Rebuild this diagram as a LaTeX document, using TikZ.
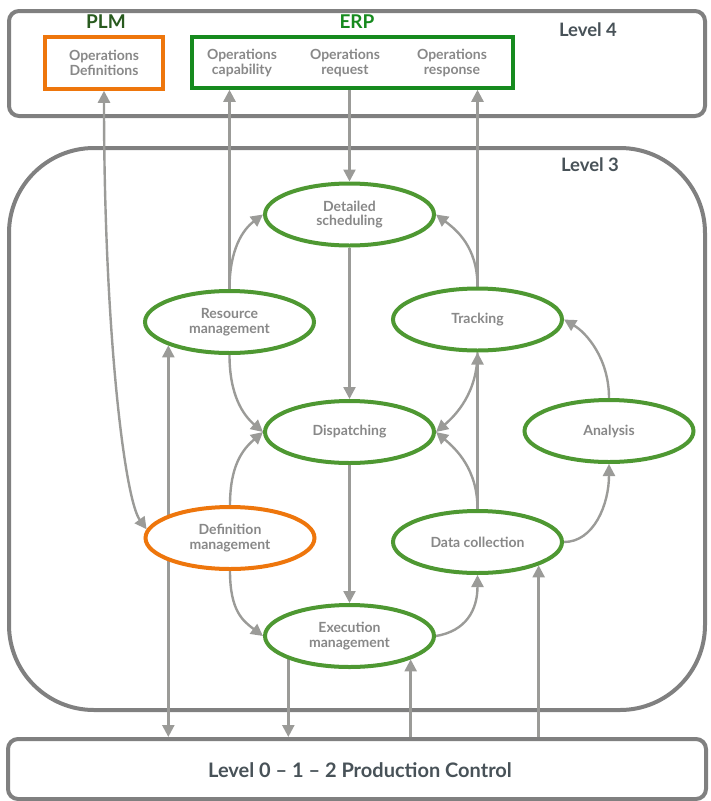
\documentclass[tikz,border=0pt]{standalone}
\usepackage{fontspec}
\setmainfont{Lato}
\usetikzlibrary{arrows.meta,shapes.geometric}
\pgfdeclarelayer{frames}
\pgfdeclarelayer{links}
\pgfsetlayers{frames,links,main}

\definecolor{framegray}{RGB}{128,128,128}
\definecolor{linkgray}{RGB}{155,155,152}
\definecolor{stepgreen}{RGB}{78,152,50}
\definecolor{plmorange}{RGB}{238,118,12}
\definecolor{erpgreen}{RGB}{22,138,30}
\definecolor{plmtext}{RGB}{40,90,30}
\definecolor{leveltext}{RGB}{72,82,88}
\definecolor{labelgray}{RGB}{136,136,136}

\tikzset{
  levelbox/.style={draw=framegray, line width=4pt, rounded corners=10pt, inner sep=0pt},
  sysbox/.style={draw=#1, line width=3.5pt, inner sep=0pt},
  func/.style={ellipse, draw=stepgreen, line width=4pt, fill=white,
    minimum width=169pt, minimum height=62pt, inner sep=0pt,
    text=labelgray, font=\fontsize{14}{14.5}\selectfont\bfseries, align=center},
  deffunc/.style={func, draw=plmorange},
  itemtext/.style={text=labelgray, font=\fontsize{14}{14.5}\selectfont\bfseries, align=center},
  leveltitle/.style={text=leveltext, font=\fontsize{18.5}{20}\selectfont\bfseries},
  systitle/.style={font=\fontsize{19}{21}\selectfont\bfseries},
  link/.style={draw=linkgray, line width=2.4pt, -{Triangle[length=12pt,width=12pt]}},
  duplex/.style={link, {Triangle[length=12pt,width=12pt]}-{Triangle[length=12pt,width=12pt]}}
}

\begin{document}
\begin{tikzpicture}[x=1pt,y=-1pt]
\useasboundingbox (0,0) rectangle (710,801);

% level frames
\begin{pgfonlayer}{frames}
  \node[levelbox, minimum width=696pt, minimum height=105pt] (l4) at (357,63.5) {};
  \node[levelbox, rounded corners=85pt, minimum width=696pt, minimum height=562pt] (l3) at (357,429) {};
  \node[levelbox, minimum width=698pt, minimum height=60pt] (l0) at (357,769) {};
\end{pgfonlayer}

\node[leveltitle] (l4t) at (588,30) {Level 4};
\node[leveltitle] (l3t) at (590,165) {Level 3};
\node[text=leveltext, font=\fontsize{20}{22}\selectfont\bfseries] (l0t) at (360,770)
  {Level 0 – 1 – 2 Production Control};

% business systems
\node[systitle, text=plmtext] (plmt) at (106,22) {PLM};
\node[systitle, text=erpgreen] (erpt) at (357,22) {ERP};
\node[sysbox=plmorange, minimum width=118pt, minimum height=52pt] (plm) at (104,63) {};
\node[sysbox=erpgreen, minimum width=321pt, minimum height=51pt] (erp) at (352.5,62.5) {};
\node[itemtext] (opdef) at (104,63) {Operations\\Definitions};
\node[itemtext] (opcap) at (242,63) {Operations\\capability};
\node[itemtext] (opreq) at (345,63) {Operations\\request};
\node[itemtext] (opres) at (452,63) {Operations\\response};

% operations management functions
\node[func] (ds) at (349.5,214.5) {Detailed\\scheduling};
\node[func] (rm) at (229.5,322) {Resource\\management};
\node[func] (tr) at (477.5,319.5) {Tracking};
\node[func] (dp) at (349.5,432) {Dispatching};
\node[func] (an) at (609,431) {Analysis};
\node[deffunc] (dm) at (230,538) {Definition\\management};
\node[func] (dc) at (477.5,542) {Data collection};
\node[func] (em) at (349.5,636) {Execution\\management};

% information flows
\begin{pgfonlayer}{links}
  \draw[duplex] (plm.south) .. controls +(0,240) and +(-22,-30) .. (dm.174);
  \draw[link] (rm.north) -- (rm.north |- erp.south);
  \draw[link] (ds.north |- erp.south) -- (ds.north);
  \draw[link] (tr.north) -- (tr.north |- erp.south);

  \draw[link] (rm.north) .. controls +(0,-40) and +(-20,15) .. (ds.west);
  \draw[link] (tr.north) .. controls +(0,-40) and +(20,15) .. (ds.east);
  \draw[link] (ds.south) -- (dp.north);

  \draw[link] (rm.south) .. controls +(0,40) and +(-20,-17) .. (dp.west);
  \draw[link] (dm.north) .. controls +(0,-40) and +(-20,17) .. (dp.west);
  \draw[link] (tr.south) .. controls +(0,40) and +(20,-17) .. (dp.east);
  \draw[link] (dc.north) .. controls +(0,-40) and +(20,17) .. (dp.east);
  \draw[link] (dc.north) -- (tr.south);

  \draw[link] (an.north) .. controls +(0,-40) and +(22,13) .. (tr.east);
  \draw[link] (dc.east) .. controls +(30,0) and +(0,40) .. (an.south);

  \draw[link] (dp.south) -- (em.north);
  \draw[link] (dm.south) .. controls +(0,40) and +(-20,-15) .. (em.west);
  \draw[link] (em.east) .. controls +(30,-5) and +(0,35) .. (dc.south);

  \draw[duplex] (rm.south west) -- (rm.south west |- l0.north);
  \draw[link] (em.south west) -- (em.south west |- l0.north);
  \draw[link] (em.south east |- l0.north) -- (em.south east);
  \draw[link] (dc.south east |- l0.north) -- (dc.south east);
\end{pgfonlayer}
\end{tikzpicture}
\end{document}
